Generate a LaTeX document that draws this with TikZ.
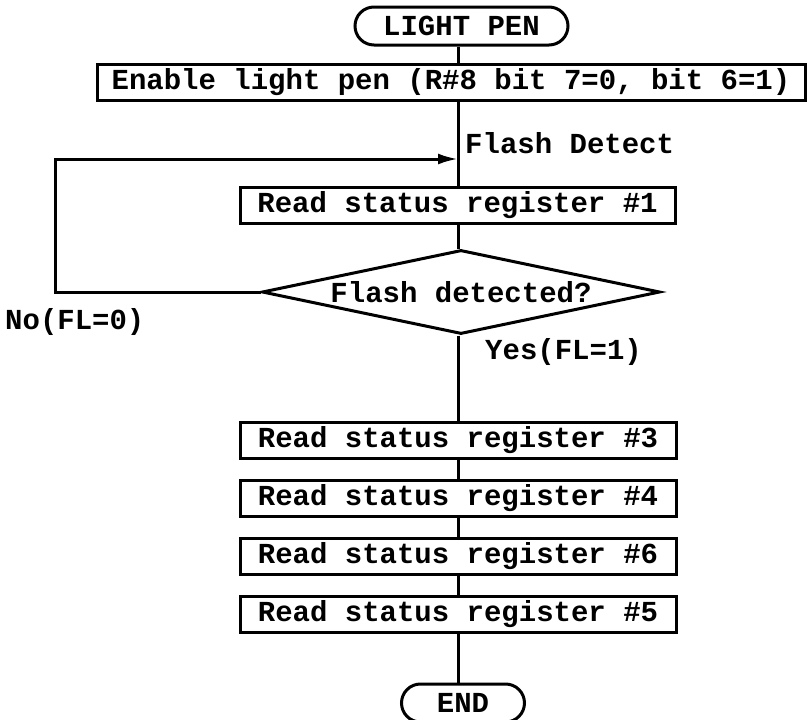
\documentclass[tikz,border=0pt]{standalone}
\usepackage{fontspec}
\setmainfont{Liberation Mono}
\usetikzlibrary{shapes.geometric,shapes.misc,arrows.meta}
\begin{document}
\begin{tikzpicture}[x=1pt,y=-1pt,
  every node/.style={font=\fontsize{29}{29}\selectfont\bfseries},
  line/.style={line width=3pt},
  procbox/.style={draw,line width=3pt,rectangle,inner sep=0pt,minimum height=36pt},
  term/.style={draw,line width=3pt,rounded rectangle,inner sep=0pt,minimum height=38pt},
  decision/.style={draw,line width=3pt,diamond,aspect=4.74,inner sep=0pt,minimum width=398pt,minimum height=84pt},
  lbl/.style={anchor=west,inner sep=0pt},
  arr/.style={line width=3pt,-{Latex[length=20pt,width=11pt]}}]
\useasboundingbox (0,0) rectangle (807,720);
\fill[white] (0,0) rectangle (807,720);
\node[term,minimum width=213pt] (start) at (461.5,26) {LIGHT PEN};
\node[procbox,minimum width=708pt] (enable) at (451,82) {Enable light pen (R\#8 bit 7=0, bit 6=1)};
\node[lbl] (fd) at (465,143) {Flash Detect};
\node[procbox,minimum width=435pt] (r1) at (457.5,205.5) {Read status register \#1};
\node[decision] (dia) at (461,292) {Flash detected?};
\node[lbl] (no) at (5,322) {No(FL=0)};
\node[lbl] (yes) at (485,352) {Yes(FL=1)};
\node[procbox,minimum width=436pt] (r3) at (458,440) {Read status register \#3};
\node[procbox,minimum width=436pt] (r4) at (458,498) {Read status register \#4};
\node[procbox,minimum width=436pt] (r6) at (458,556) {Read status register \#6};
\node[procbox,minimum width=436pt] (r5) at (458,614) {Read status register \#5};
\node[term,minimum width=123pt] (end) at (463,703) {END};
\coordinate (m) at (458,0);
\coordinate (lp) at (55,0);
\coordinate (join) at (458,159);
\draw[line] (start.south -| m) -- (enable.north -| m);
\draw[line] (enable.south -| m) -- (r1.north -| m);
\draw[line] (r1.south -| m) -- (dia.north -| m);
\draw[arr] (dia.west) -- (dia.west -| lp) -- (join -| lp) -- (join);
\draw[line] (dia.south -| m) -- (r3.north -| m);
\draw[line] (r3.south -| m) -- (r4.north -| m);
\draw[line] (r4.south -| m) -- (r6.north -| m);
\draw[line] (r6.south -| m) -- (r5.north -| m);
\draw[line] (r5.south -| m) -- (end.north -| m);
\end{tikzpicture}
\end{document}
